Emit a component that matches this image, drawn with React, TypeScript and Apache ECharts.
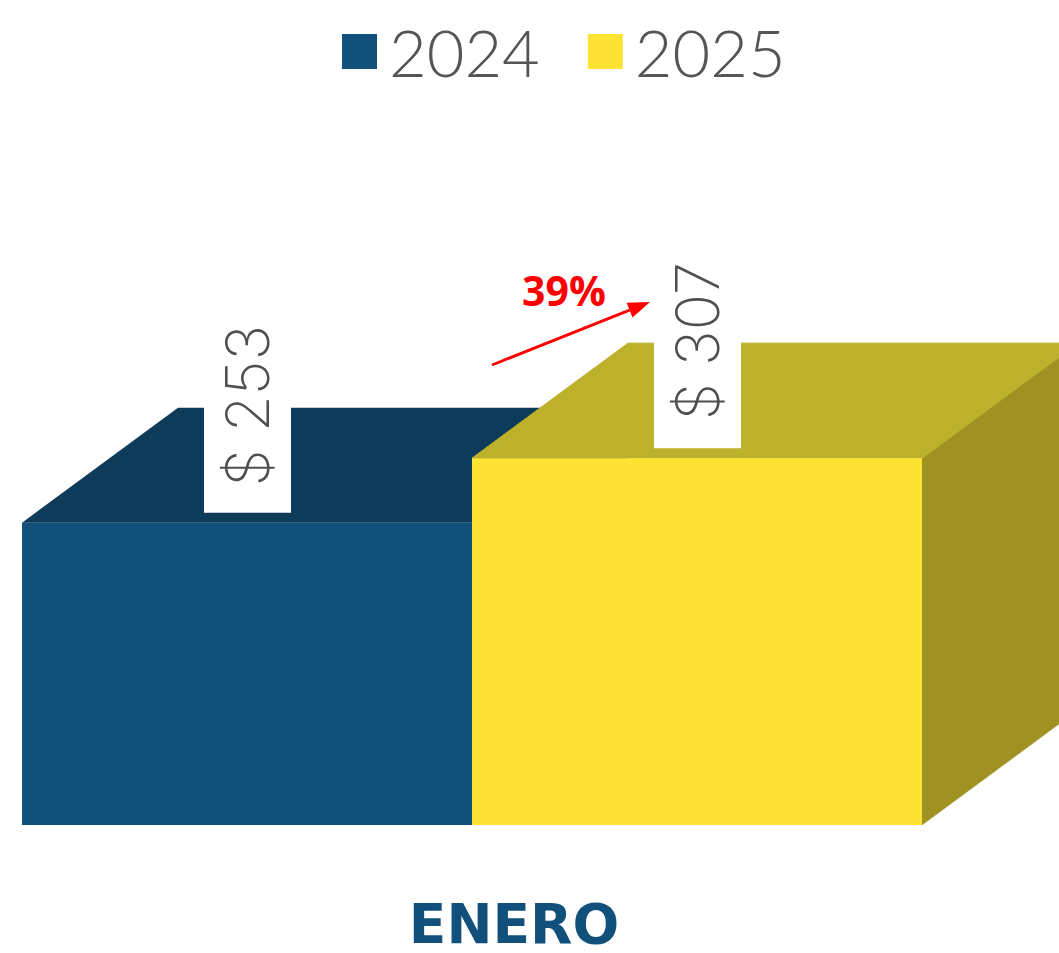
import React, { useEffect, useRef } from "react";
import * as echarts from "echarts";

const categories = ["ENERO"];
const seriesNames = ["2024", "2025"];
const values2024 = [253];
const values2025 = [307];
const changeLabel = "39%";

const frontColors = ["#10507A", "#FDE334"];
const topColors = ["#0D3B59", "#BDB02A"];
const sideColors = ["#0B3350", "#A09123"];

const DX = 156;
const DY = 115;

function makeRender(idx: number) {
  return (params: any, api: any) => {
    const cat = api.value(0);
    const val = api.value(1);
    const top = api.coord([cat, val]);
    const base = api.coord([cat, 0]);
    const band = api.size([1, 0])[0];
    const half = band / 2;
    const x0 = top[0] - half + idx * half;
    const x1 = x0 + half;
    const yT = top[1];
    const yB = base[1];
    const cx = (x0 + x1) / 2;
    const boxBottom = yT - 10;
    const boxH = 195;
    return {
      type: "group",
      children: [
        {
          type: "polygon",
          shape: { points: [[x1, yT], [x1 + DX, yT - DY], [x1 + DX, yB - DY], [x1, yB]] },
          style: { fill: sideColors[idx], stroke: sideColors[idx], lineWidth: 0.5 },
        },
        {
          type: "polygon",
          shape: { points: [[x0, yT], [x0 + DX, yT - DY], [x1 + DX, yT - DY], [x1, yT]] },
          style: { fill: topColors[idx], stroke: topColors[idx], lineWidth: idx === 1 ? 1 : 0 },
        },
        {
          type: "rect",
          shape: { x: x0, y: yT, width: half, height: yB - yT },
          style: { fill: frontColors[idx] },
        },
        {
          type: "rect",
          shape: { x: cx - 43, y: boxBottom - boxH, width: 87, height: boxH },
          style: { fill: "#ffffff" },
        },
        {
          type: "text",
          x: cx,
          y: boxBottom - 107,
          rotation: Math.PI / 2,
          style: {
            text: "$ " + val,
            fill: "#4f4f4f",
            font: "200 60px Inter, Lato, sans-serif",
            align: "center",
            verticalAlign: "middle",
          },
        },
      ],
    };
  };
}

export default function App() {
  const ref = useRef<HTMLDivElement>(null);
  useEffect(() => {
    if (!ref.current) return;
    const chart = echarts.init(ref.current, null, { renderer: "svg" });
    const tip = [650, 302];
    const start = [492, 365];
    const vx = tip[0] - start[0];
    const vy = tip[1] - start[1];
    const len = Math.sqrt(vx * vx + vy * vy);
    const ux = vx / len;
    const uy = vy / len;
    const hl = 22;
    const hw = 8;
    const bc = [tip[0] - hl * ux, tip[1] - hl * uy];
    chart.setOption({
      animation: false,
      legend: {
        data: seriesNames,
        left: 337,
        top: 14,
        itemWidth: 35,
        itemHeight: 35,
        itemGap: 48,
        icon: "rect",
        textStyle: {
          fontSize: 65,
          lineHeight: 62,
          color: "#555555",
          fontFamily: "Lato, Inter, sans-serif",
          fontWeight: 300,
          padding: [0, 0, 0, 7],
        },
      },
      grid: { left: 22, top: 347, width: 900, bottom: 128 },
      xAxis: {
        type: "category",
        data: categories,
        axisLine: { show: false },
        axisTick: { show: false },
        axisLabel: {
          margin: 77,
          fontSize: 55,
          lineHeight: 44,
          fontWeight: "bold",
          fontFamily: "DejaVu Sans, sans-serif",
          color: "#10507A",
          padding: [0, 0, 0, 84],
        },
      },
      yAxis: {
        type: "value",
        min: 0,
        max: 400,
        show: false,
        splitLine: { show: false },
      },
      series: [
        {
          name: seriesNames[0],
          type: "custom",
          clip: false,
          itemStyle: { color: frontColors[0] },
          renderItem: makeRender(0),
          data: values2024.map((v, i) => [i, v]),
        },
        {
          name: seriesNames[1],
          type: "custom",
          clip: false,
          itemStyle: { color: frontColors[1] },
          renderItem: makeRender(1),
          data: values2025.map((v, i) => [i, v]),
        },
      ],
      graphic: [
        {
          type: "line",
          shape: { x1: start[0], y1: start[1], x2: bc[0], y2: bc[1] },
          style: { stroke: "#FF0000", lineWidth: 2.8 },
        },
        {
          type: "polygon",
          shape: {
            points: [
              tip,
              [bc[0] - uy * hw, bc[1] + ux * hw],
              [bc[0] + uy * hw, bc[1] - ux * hw],
            ],
          },
          style: { fill: "#FF0000" },
        },
        {
          type: "text",
          x: 564,
          y: 290,
          style: {
            text: changeLabel,
            fill: "#FF0000",
            font: "bold 41px 'Open Sans', sans-serif",
            align: "center",
            verticalAlign: "middle",
          },
        },
      ],
    });
    return () => chart.dispose();
  }, []);
  return (
    <div
      ref={ref}
      style={{ position: "fixed", left: 0, top: 0, width: 1059, height: 953, background: "#ffffff" }}
    />
  );
}
